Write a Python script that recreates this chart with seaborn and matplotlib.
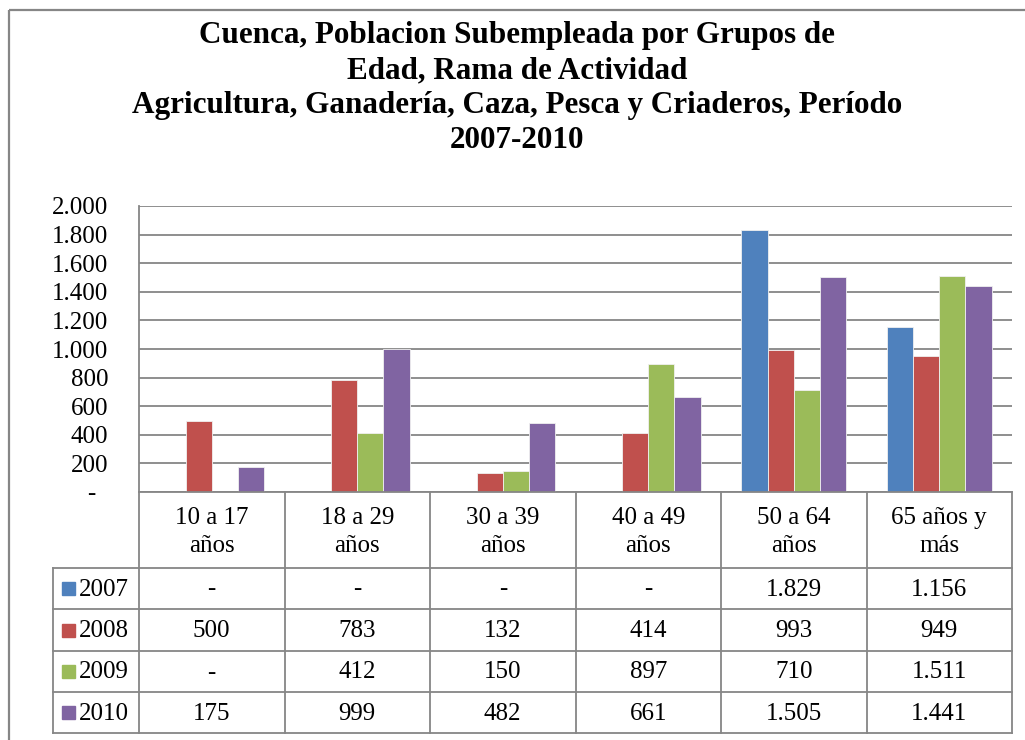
import numpy as np
import pandas as pd
import matplotlib
matplotlib.use("Agg")
import matplotlib.pyplot as plt
from matplotlib.patches import Rectangle
import seaborn as sns

# ---- data ----
grupos = ["10 a 17\naños", "18 a 29\naños", "30 a 39\naños", "40 a 49\naños",
          "50 a 64\naños", "65 años y\nmás"]
anios = ["2007", "2008", "2009", "2010"]
v2007 = [0, 0, 0, 0, 1829, 1156]
v2008 = [500, 783, 132, 414, 993, 949]
v2009 = [0, 412, 150, 897, 710, 1511]
v2010 = [175, 999, 482, 661, 1505, 1441]
colores = ["#4F81BD", "#C0504D", "#9BBB59", "#8064A2"]
yticks = [0, 200, 400, 600, 800, 1000, 1200, 1400, 1600, 1800, 2000]
titulo = ("Cuenca, Poblacion Subempleada por Grupos de\n"
          "Edad, Rama de Actividad\n"
          "Agricultura, Ganadería, Caza, Pesca y Criaderos, Período\n"
          "2007-2010")

series = {"2007": v2007, "2008": v2008, "2009": v2009, "2010": v2010}
df = pd.DataFrame([{"grupo": g, "anio": a, "valor": series[a][i]}
                   for a in anios for i, g in enumerate(grupos)])


def fmt(v):
    if v == 0:
        return "-"
    return f"{v:,}".replace(",", ".")


plt.rcParams["font.family"] = ["Liberation Serif", "DejaVu Serif"]
GRID = "#868686"
FS = 18
W, H = 1025, 740
fig = plt.figure(figsize=(W / 100, H / 100), dpi=100)
fig.patch.set_facecolor("white")

# plot area in pixel geometry
L, R, T, B = 139, 1012, 206, 492
ax = fig.add_axes([L / W, 1 - B / H, (R - L) / W, (B - T) / H])
sns.barplot(data=df, x="grupo", y="valor", hue="anio", order=grupos,
            hue_order=anios, palette=colores, width=0.72, gap=0,
            saturation=1, errorbar=None, legend=False, ax=ax,
            linewidth=0.6, edgecolor="#f0f0f0")
ax.set_xlim(-0.5, len(grupos) - 0.5)
ax.set_ylim(0, 2000)
ax.set_yticks(yticks)
ax.set_yticklabels([fmt(t) if t else "-  " for t in yticks], fontsize=FS)
ax.tick_params(axis="y", length=0, pad=22)
ax.tick_params(axis="x", length=0, labelbottom=False)
ax.set_xlabel("")
ax.set_ylabel("")
ax.set_axisbelow(True)
ax.yaxis.grid(True, color=GRID, linewidth=1.3)
ax.xaxis.grid(False)
for s in ["top", "right"]:
    ax.spines[s].set_visible(False)
for s in ["left", "bottom"]:
    ax.spines[s].set_color(GRID)
    ax.spines[s].set_linewidth(1.3)

# overlay in pixel coordinates for title, frame and data table
ov = fig.add_axes([0, 0, 1, 1], facecolor="none")
ov.set_xlim(0, W)
ov.set_ylim(H, 0)
ov.axis("off")

ov.add_patch(Rectangle((9, 10), 1200, 900, fill=False, edgecolor=GRID,
                       linewidth=1.6))
ov.text(517, 88, titulo, ha="center", va="center", fontsize=22.4,
        fontweight="bold", linespacing=1.26)

cw = (R - L) / len(grupos)
row_lines = [568, 609, 651, 692, 733]
legL = 53
# vertical lines
for k in range(len(grupos) + 1):
    ov.plot([L + k * cw] * 2, [B, row_lines[-1]], color=GRID, lw=1.3)
ov.plot([legL, legL], [row_lines[0], row_lines[-1]], color=GRID, lw=1.3)
for y in row_lines:
    ov.plot([legL, R], [y, y], color=GRID, lw=1.3)

# header row
for i, g in enumerate(grupos):
    ov.text(L + (i + 0.5) * cw, 532, g, ha="center",
            va="center", fontsize=FS, linespacing=1.32)

# series rows
for r, a in enumerate(anios):
    yc = (row_lines[r] + row_lines[r + 1]) / 2
    ov.add_patch(Rectangle((62, yc - 6.5), 13, 13, color=colores[r]))
    ov.text(79, yc + 1, a, ha="left", va="center", fontsize=FS)
    for i, v in enumerate(series[a]):
        ov.text(L + (i + 0.5) * cw, yc + 1, fmt(v), ha="center", va="center",
                fontsize=FS)

fig.savefig("out.png", dpi=100)
